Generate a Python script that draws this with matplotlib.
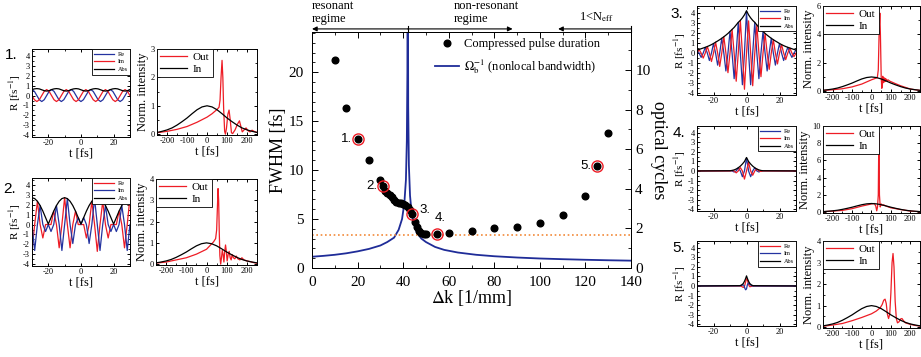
import numpy as np
import matplotlib
matplotlib.use("Agg")
import matplotlib.pyplot as plt
from matplotlib.ticker import MultipleLocator

plt.rcParams.update({"font.family": "Liberation Serif", "mathtext.fontset": "stix",
                     "axes.unicode_minus": False, "axes.linewidth": 0.7,
                     "xtick.major.width": 0.7, "ytick.major.width": 0.7,
                     "xtick.minor.width": 0.6, "ytick.minor.width": 0.6})

RED = "#ee1c25"
BLUE = "#2433a0"
NAVY = "#1f2c98"
ORANGE = "#f28a3a"

# --- main panel: compressed pulse duration vs phase mismatch ---
dk = [10, 15, 20, 25, 30, 31, 32, 33, 34, 35, 36, 37, 38, 39, 40, 41, 42, 43, 44, 45,
      46, 47, 48, 49, 50, 55, 60, 70, 80, 90, 100, 110, 120, 125, 130]
fwhm = [21.2, 16.3, 13.2, 11.05, 9.0, 8.4, 7.9, 7.65, 7.45, 7.2, 6.95, 6.75, 6.65, 6.6, 6.55,
        6.45, 6.25, 5.95, 5.5, 4.7, 4.15, 3.75, 3.6, 3.52, 3.45, 3.47, 3.54, 3.81, 4.08,
        4.18, 4.56, 5.44, 7.31, 10.4, 13.8]
circ_dk = [20, 31, 44, 55, 125]
circ_fwhm = [13.2, 8.4, 5.5, 3.47, 10.4]
circ_labels = ["1.", "2.", "3.", "4.", "5."]

# nonlocal bandwidth Omega_b^-1 (resonance near dk = 42)
ob_dk = [0, 5, 10, 15, 20, 25, 30, 33, 36, 38, 39.5, 40.5, 41.2, 41.6, 41.85, 41.95,
         42.05, 42.2, 42.5, 43, 43.7, 44.5, 46, 48, 50, 54, 58, 64, 72, 80, 90, 100,
         110, 120, 130, 140]
ob_val = [1.15, 1.24, 1.35, 1.5, 1.7, 1.95, 2.3, 2.65, 3.1, 3.9, 5.0, 6.6, 9.0, 13.0, 20.0,
          35.0, 33.0, 16.5, 10.5, 7.4, 5.6, 4.7, 3.6, 3.0, 2.65, 2.15, 1.85, 1.58, 1.35,
          1.2, 1.07, 0.97, 0.9, 0.84, 0.79, 0.75]
limit_fwhm = 3.4

# --- small panels: R(t) ---
t1 = np.arange(-30, 30.1, 1.5)
re1 = [0.6, 0.42, 0, -0.42, -0.6, -0.42, 0, 0.42, 0.6, 0.42, 0, -0.42, -0.6, -0.42, 0, 0.42,
       0.6, 0.42, 0, -0.42, -0.6, -0.42, 0, 0.42, 0.6, 0.42, 0, -0.42, -0.6, -0.42, 0, 0.42,
       0.6, 0.42, 0, -0.42, -0.6, -0.42, 0, 0.42, 0.6]
im1 = [0, -0.42, -0.6, -0.42, 0, 0.42, 0.6, 0.42, 0, -0.42, -0.6, -0.42, 0, 0.42, 0.6, 0.42,
       0, -0.42, -0.6, -0.42, 0, 0.42, 0.6, 0.42, 0, -0.42, -0.6, -0.42, 0, 0.42, 0.6, 0.42,
       0, -0.42, -0.6, -0.42, 0, 0.42, 0.6, 0.42, 0]
abs1 = [0.6, 0.67, 0.7, 0.67, 0.58, 0.49, 0.45, 0.49, 0.6, 0.67, 0.7, 0.67, 0.58, 0.49, 0.45,
        0.49, 0.6, 0.67, 0.7, 0.67, 0.58, 0.49, 0.45, 0.49, 0.6, 0.67, 0.7, 0.67, 0.58, 0.49,
        0.45, 0.49, 0.6, 0.67, 0.7, 0.67, 0.58, 0.49, 0.45, 0.49, 0.6]

t2 = np.linspace(-30, 30, 37)
re2 = [-2.7, 0, 2.34, 0, -1.35, 0, 0, 0, 1.35, 0, -2.34, 0, 2.7, 0, -2.34, 0, 1.35, 0, 0,
       0, -1.35, 0, 2.34, 0, -2.7, 0, 2.34, 0, -1.35, 0, 0, 0, 1.35, 0, -2.34, 0, 2.7]
im2 = [0, -2.61, 0, 1.91, 0, -0.7, 0, -0.7, 0, 1.91, 0, -2.61, 0, 2.61, 0, -1.91, 0, 0.7,
       0, 0.7, 0, -1.91, 0, 2.61, 0, -2.61, 0, 1.91, 0, -0.7, 0, -0.7, 0, 1.91, 0, -2.61, 0]
abs2 = [2.7, 2.61, 2.34, 1.91, 1.35, 0.7, 0.05, 0.7, 1.35, 1.91, 2.34, 2.61, 2.7, 2.61, 2.34,
        1.91, 1.35, 0.7, 0.05, 0.7, 1.35, 1.91, 2.34, 2.61, 2.7, 2.61, 2.34, 1.91, 1.35, 0.7,
        0.05, 0.7, 1.35, 1.91, 2.34, 2.61, 2.7]

t3 = np.arange(-30, 30.1, 1.25)
re3 = [0.3, 0, -0.43, 0, 0.57, 0, -0.74, 0, 0.95, 0, -1.2, 0, 1.47, 0, -1.78, 0, 2.15, 0,
       -2.55, 0, 3.05, 0, -3.15, 0, 4.2, 0, -3.15, 0, 3.05, 0, -2.55, 0, 2.15, 0, -1.78, 0,
       1.47, 0, -1.2, 0, 0.95, 0, -0.74, 0, 0.57, 0, -0.43, 0, 0.3]
im3 = [0, 0.36, 0, -0.5, 0, 0.65, 0, -0.84, 0, 1.08, 0, -1.33, 0, 1.62, 0, -1.95, 0, 2.35,
       0, -2.8, 0, 3.25, 0, -3.6, 0, 3.2, 0, -3.25, 0, 2.8, 0, -2.35, 0, 1.95, 0, -1.62, 0,
       1.33, 0, -1.08, 0, 0.84, 0, -0.65, 0, 0.5, 0, -0.36, 0]
abs3 = [0.3, 0.36, 0.43, 0.5, 0.57, 0.65, 0.74, 0.84, 0.95, 1.08, 1.2, 1.33, 1.47, 1.62,
        1.78, 1.95, 2.15, 2.35, 2.55, 2.8, 3.05, 3.25, 3.5, 3.8, 4.2, 3.8, 3.5, 3.25, 3.05,
        2.8, 2.55, 2.35, 2.15, 1.95, 1.78, 1.62, 1.47, 1.33, 1.2, 1.08, 0.95, 0.84, 0.74,
        0.65, 0.57, 0.5, 0.43, 0.36, 0.3]

t4 = [-30, -10, -8.75, -7.5, -6.25, -5, -3.75, -2.5, -1.25, 0, 1.25, 2.5, 3.75, 5, 6.25,
      7.5, 8.75, 10, 30]
re4 = [0, 0.02, 0, -0.11, 0, 0.33, 0, -0.6, 0, 1.35, 0, -0.6, 0, 0.33, 0, -0.11, 0, 0.02, 0]
im4 = [0, 0, 0.05, 0, -0.2, 0, 0.35, 0, -0.85, 0, 0.9, 0, -0.45, 0, 0.2, 0, -0.05, 0, 0]
abs4 = [0, 0.02, 0.05, 0.11, 0.2, 0.33, 0.5, 0.72, 0.98, 1.4, 0.98, 0.72, 0.5, 0.33, 0.2,
        0.11, 0.05, 0.02, 0]

t5 = [-30, -4, -3, -2, -1.5, -1, -0.5, 0, 0.5, 1, 1.5, 2, 3, 4, 30]
re5 = [0, 0, -0.05, -0.15, -0.12, 0.1, 0.45, 0.75, 0.65, 0.3, 0.05, -0.08, -0.04, 0, 0]
im5 = [0, 0.02, 0.06, 0.12, 0.05, -0.25, -0.4, -0.3, 0.1, 0.3, 0.28, 0.15, 0.04, 0, 0]
abs5 = [0, 0.03, 0.1, 0.25, 0.4, 0.58, 0.8, 1.05, 0.8, 0.58, 0.4, 0.25, 0.1, 0.03, 0]

# --- small panels: intensity ---
t_in = [-250, -225, -200, -175, -150, -125, -100, -75, -50, -25, 0, 25, 50, 75, 100, 125,
        150, 175, 200, 225, 250]
i_in = [0.06, 0.1, 0.15, 0.22, 0.32, 0.44, 0.57, 0.72, 0.86, 0.96, 1.0, 0.96, 0.86, 0.72,
        0.57, 0.44, 0.32, 0.22, 0.15, 0.1, 0.06]

to1 = [-250, -200, -150, -100, -50, 0, 25, 50, 60, 65, 70, 75, 79, 83, 88, 92, 97, 104, 110,
       116, 122, 128, 140, 152, 162, 170, 176, 185, 195, 205, 215, 225, 235, 250]
io1 = [0.05, 0.1, 0.17, 0.27, 0.42, 0.6, 0.72, 0.87, 0.95, 1.2, 2.0, 2.6, 2.0, 0.9, 0.1, 0.0,
       0.2, 0.7, 0.85, 0.5, 0.05, 0.02, 0.15, 0.35, 0.47, 0.25, 0.08, 0.15, 0.22, 0.12,
       0.08, 0.14, 0.1, 0.06]

to2 = [-250, -200, -100, -50, 0, 25, 35, 45, 50, 55, 57, 60, 63, 66, 70, 74, 78, 82, 86, 90,
       94, 98, 102, 107, 112, 117, 122, 127, 133, 140, 147, 155, 165, 175, 185, 200, 215,
       230, 250]
io2 = [0.05, 0.1, 0.3, 0.47, 0.7, 0.95, 1.05, 1.2, 1.6, 3.0, 3.55, 3.0, 1.5, 0.4, 0.0, 0.3,
       0.65, 0.45, 0.1, 0.6, 0.9, 0.6, 0.15, 0.45, 0.6, 0.3, 0.2, 0.45, 0.3, 0.25, 0.38,
       0.25, 0.2, 0.3, 0.2, 0.15, 0.12, 0.08, 0.04]

to3 = [-250, -200, -150, -100, -50, 0, 20, 30, 35, 40, 43, 46, 50, 53, 56, 58, 61, 64, 67,
       70, 73, 76, 80, 85, 95, 120, 150, 200, 250]
io3 = [0.05, 0.1, 0.17, 0.3, 0.5, 0.8, 0.9, 0.95, 1.5, 4.5, 5.5, 4.0, 1.0, 0.2, 0.4, 1.05,
       0.6, 0.95, 0.65, 0.9, 0.7, 0.85, 0.72, 0.8, 0.7, 0.55, 0.38, 0.15, 0.05]

to4 = [-250, -200, -150, -100, -50, 0, 15, 22, 27, 31, 35, 38, 41, 45, 50, 55, 62, 75, 100,
       150, 200, 250]
io4 = [0.05, 0.12, 0.2, 0.4, 0.7, 0.95, 1.0, 0.7, 0.15, 0.6, 2.0, 9.2, 2.0, 0.6, 0.95, 0.8,
       0.85, 0.7, 0.5, 0.3, 0.12, 0.05]

to5 = [-250, -200, -150, -100, -50, 0, 25, 45, 55, 63, 70, 76, 82, 88, 94, 100, 106, 111,
       116, 122, 128, 134, 142, 150, 157, 165, 175, 200, 225, 250]
io5 = [0.04, 0.1, 0.17, 0.3, 0.45, 0.62, 0.75, 0.9, 1.05, 1.25, 1.3, 1.1, 0.6, 0.4, 0.6, 1.6,
       3.0, 3.42, 2.8, 1.2, 0.4, 0.2, 0.25, 0.38, 0.4, 0.3, 0.2, 0.13, 0.08, 0.05]

fig = plt.figure(figsize=(9.21, 3.57), dpi=100)


def r_panel(rect, t, re, im, ab, re_col, im_col):
    ax = fig.add_axes(rect)
    ax.plot(t, re, color=re_col, lw=0.9, label="Re")
    ax.plot(t, im, color=im_col, lw=0.9, label="Im")
    ax.plot(t, ab, color="k", lw=0.9, label="Abs")
    ax.set_xlim(-30, 30)
    ax.set_ylim(-4.17, 4.68)
    ax.xaxis.set_major_locator(MultipleLocator(20))
    ax.xaxis.set_minor_locator(MultipleLocator(10))
    ax.yaxis.set_major_locator(MultipleLocator(1))
    ax.yaxis.set_minor_locator(MultipleLocator(0.5))
    ax.tick_params(which="both", direction="in", top=True, right=True, labelsize=6, pad=1.5)
    ax.tick_params(which="major", length=2.5)
    ax.tick_params(which="minor", length=1.5)
    ax.set_xlabel("t [fs]", fontsize=9, labelpad=0)
    ax.set_ylabel(r"R [fs$^{-1}$]", fontsize=8, labelpad=0)
    leg = ax.legend(loc="upper right", fontsize=4.5, frameon=True, fancybox=False,
                    edgecolor="k", framealpha=1, borderaxespad=0, borderpad=0.4,
                    labelspacing=0.35, handlelength=3.2, handletextpad=0.5)
    leg.get_frame().set_linewidth(0.6)
    return ax


def i_panel(rect, t_out, i_out, ymax, ystep):
    ax = fig.add_axes(rect)
    ax.plot(t_out, i_out, color=RED, lw=0.9, label="Out")
    ax.plot(t_in, i_in, color="k", lw=0.9, label="In")
    ax.set_xlim(-250, 250)
    ax.set_ylim(-0.01 * ymax, ymax)
    ax.xaxis.set_major_locator(MultipleLocator(100))
    ax.xaxis.set_minor_locator(MultipleLocator(50))
    ax.yaxis.set_major_locator(MultipleLocator(ystep))
    ax.yaxis.set_minor_locator(MultipleLocator(ystep / 2))
    ax.tick_params(which="both", direction="in", top=True, right=True, labelsize=6, pad=1.5)
    ax.tick_params(which="major", length=2.5)
    ax.tick_params(which="minor", length=1.5)
    ax.set_xlabel("t [fs]", fontsize=9, labelpad=0)
    ax.set_ylabel("Norm. intensity", fontsize=9, labelpad=1)
    leg = ax.legend(loc="upper left", fontsize=8, frameon=True, fancybox=False,
                    edgecolor="k", framealpha=1, borderaxespad=0, borderpad=0.3,
                    labelspacing=0.2, handlelength=2.4, handletextpad=0.5)
    leg.get_frame().set_linewidth(0.6)
    return ax


# left column
r_panel([0.0347, 0.6162, 0.1064, 0.2465], t1, re1, im1, abs1, BLUE, RED)
i_panel([0.1705, 0.6218, 0.1086, 0.2409], to1, io1, 3, 1)
r_panel([0.0347, 0.2549, 0.1064, 0.2465], t2, re2, im2, abs2, RED, BLUE)
i_panel([0.1694, 0.2577, 0.1097, 0.2409], to2, io2, 4, 1)

# right column
r_panel([0.7568, 0.7339, 0.1075, 0.2493], t3, re3, im3, abs3, BLUE, RED)
i_panel([0.8936, 0.7423, 0.1053, 0.2409], to3, io3, 6, 2)
r_panel([0.7568, 0.4090, 0.1075, 0.2381], t4, re4, im4, abs4, BLUE, RED)
i_panel([0.8936, 0.4034, 0.1053, 0.2437], to4, io4, 10, 2)
r_panel([0.7568, 0.0868, 0.1075, 0.2381], t5, re5, im5, abs5, RED, BLUE)
i_panel([0.8936, 0.0812, 0.1053, 0.2437], to5, io5, 4, 1)

for x, y, s in [(0.005, 0.845, "1."), (0.004, 0.47, "2."), (0.728, 0.962, "3."),
                (0.730, 0.627, "4."), (0.730, 0.305, "5.")]:
    fig.text(x, y, s, family="Liberation Sans", fontsize=11, ha="left", va="center")

# main plot
ax = fig.add_axes([0.3388, 0.2493, 0.3464, 0.6611])
ln, = ax.plot(ob_dk, ob_val, color=NAVY, lw=1.3, label=r"$\Omega_{\rm b}^{-1}$ (nonlocal bandwidth)")
ax.axhline(limit_fwhm, color=ORANGE, ls=(0, (1, 1.6)), lw=1.2)
pts, = ax.plot(dk, fwhm, "o", color="k", ms=4.8, label="Compressed pulse duration", zorder=3)
ax.plot(circ_dk, circ_fwhm, "o", mfc="none", mec=RED, ms=8, mew=1.0, zorder=4)
offsets = [(-4, 0, "right", "center"), (-4, 0, "right", "center"), (5, 3, "left", "center"),
           (-2, 7, "left", "bottom"), (-4, 0, "right", "center")]
for xd, yd, s, (dx, dy, ha, va) in zip(circ_dk, circ_fwhm, circ_labels, offsets):
    ax.annotate(s, (xd, yd), xytext=(dx, dy), textcoords="offset points", ha=ha, va=va,
                family="Liberation Sans", fontsize=9.5)

ax.set_xlim(0, 140)
ax.set_ylim(0, 24.1)
ax.xaxis.set_major_locator(MultipleLocator(20))
ax.xaxis.set_minor_locator(MultipleLocator(10))
ax.yaxis.set_major_locator(MultipleLocator(5))
ax.yaxis.set_minor_locator(MultipleLocator(1))
ax.tick_params(which="both", direction="in", top=True, right=False, labelsize=11)
ax.tick_params(axis="x", pad=6)
ax.tick_params(axis="y", pad=6)
ax.tick_params(which="major", length=4)
ax.tick_params(which="minor", length=2)
ax.set_xlabel(r"$\Delta$k [1/mm]", fontsize=13, labelpad=-1)
ax.set_ylabel("FWHM [fs]", fontsize=13, labelpad=1)
ax.legend([pts, ln], [pts.get_label(), ln.get_label()], loc="upper left",
          bbox_to_anchor=(0.37, 0.995), frameon=False, fontsize=9, handlelength=1.9,
          handletextpad=0.4, labelspacing=0.55, borderaxespad=0)

ax2 = ax.twinx()
ax2.set_ylim(0, 11.92)
ax2.yaxis.set_major_locator(MultipleLocator(2))
ax2.yaxis.set_minor_locator(MultipleLocator(1))
ax2.tick_params(which="both", direction="in", labelsize=11, pad=3)
ax2.tick_params(which="major", length=4)
ax2.tick_params(which="minor", length=2)
ax2.set_ylabel("optical cycles", fontsize=13, rotation=270, labelpad=12)

# regime arrows above the main plot
tr = ax.get_xaxis_transform()
arrow = dict(arrowstyle="-|>", lw=0.8, color="k", mutation_scale=7, shrinkA=0, shrinkB=0)
for x0, x1 in [(42, 0), (42, 88), (140, 108)]:
    ax.annotate("", xy=(x1, 1.013), xytext=(x0, 1.013), xycoords=tr, textcoords=tr,
                arrowprops=arrow, annotation_clip=False)
for xv in [42, 140]:
    ax.plot([xv, xv], [1.0, 1.027], color="k", lw=0.8, transform=tr, clip_on=False)
ax.text(0, 1.03, "resonant\nregime", transform=tr, fontsize=9, ha="left", va="bottom",
        linespacing=1.1)
ax.text(62, 1.03, "non-resonant\nregime", transform=tr, fontsize=9, ha="left", va="bottom",
        linespacing=1.1)
ax.text(117, 1.035, r"1<N$_{\rm eff}$", transform=tr, fontsize=9, ha="left", va="bottom")

fig.savefig("out.png", dpi=100)
